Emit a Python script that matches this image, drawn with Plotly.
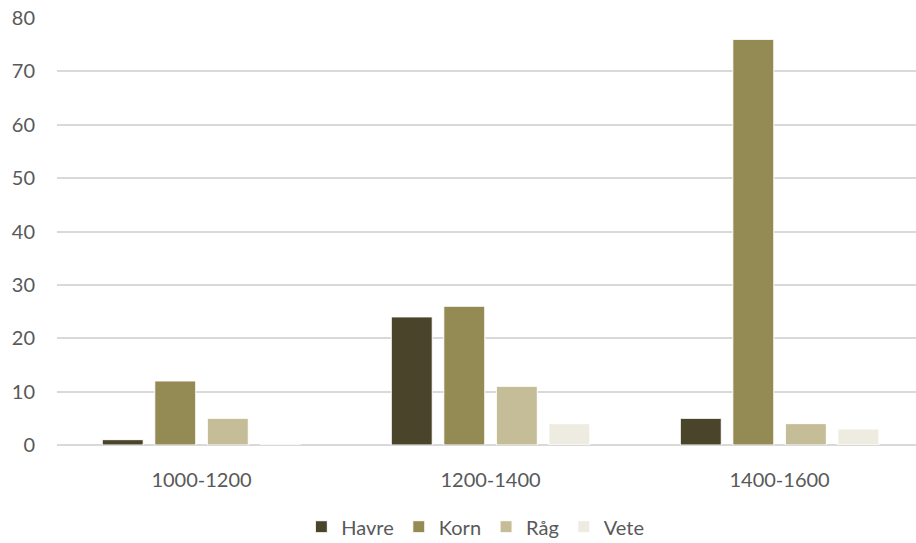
import plotly.graph_objects as go

categories = ["1000-1200", "1200-1400", "1400-1600"]
havre = [1, 24, 5]
korn = [12, 26, 76]
rag = [5, 11, 4]
vete = [0, 4, 3]

series = [("Havre", havre, "#4A442A"), ("Korn", korn, "#948A54"),
          ("Råg", rag, "#C4BD97"), ("Vete", vete, "#EEECE1")]

fig = go.Figure()
for name, vals, col in series:
    fig.add_trace(go.Bar(x=categories, y=vals, name=name,
                         marker=dict(color=col, line=dict(color="white", width=1))))

font = "Lato, Open Sans, sans-serif"
fig.update_layout(
    width=916, height=543,
    margin=dict(l=57, r=0, t=18, b=98),
    paper_bgcolor="white", plot_bgcolor="white",
    barmode="group", bargap=0.273, bargroupgap=0.22,
    font=dict(family=font, size=20, color="#595959"),
    showlegend=True,
    legend=dict(orientation="h", x=0.487, xanchor="center", yref="container", y=0.03,
                yanchor="middle", font=dict(size=20, color="#595959"), itemwidth=30,
                traceorder="normal"),
    xaxis=dict(showgrid=False, showline=False, zeroline=False, ticklabelstandoff=21,
               range=[-0.5, 2.472], tickfont=dict(size=20, color="#595959")),
    yaxis=dict(range=[0, 80], dtick=10, showgrid=True, gridcolor="#D9D9D9", gridwidth=1.5,
               zeroline=True, zerolinecolor="#D9D9D9", zerolinewidth=1.5, showline=False,
               ticklabelstandoff=21, tickfont=dict(size=20, color="#595959")),
)
fig.write_html("out.html")
